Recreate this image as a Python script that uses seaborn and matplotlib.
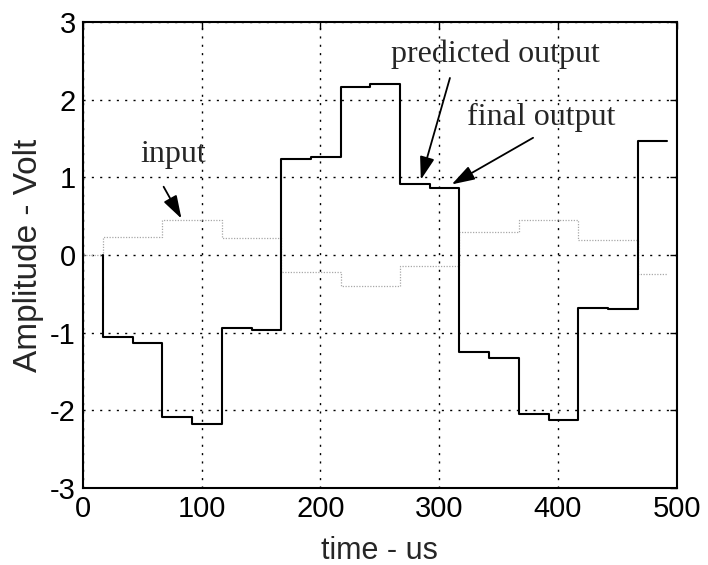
import matplotlib
matplotlib.use("Agg")
import matplotlib.pyplot as plt
import seaborn as sns
import pandas as pd

# step edges (us)
out_t = [17, 42, 67, 92, 117, 142, 167, 192, 217, 242, 267, 292, 317, 342,
         367, 392, 417, 442, 467, 492]
# output (final / predicted) levels, one per interval
out_v = [-1.06, -1.13, -2.09, -2.18, -0.94, -0.96, 1.24, 1.26, 2.17, 2.20,
         0.91, 0.87, -1.25, -1.32, -2.04, -2.12, -0.68, -0.70, 1.47]

in_t = [0, 17, 67, 117, 167, 217, 267, 317, 367, 417, 467, 492]
in_v = [0.0, 0.23, 0.45, 0.22, -0.22, -0.40, -0.14, 0.30, 0.45, 0.19, -0.24]

xticks = [0, 100, 200, 300, 400, 500]
yticks = [-3, -2, -1, 0, 1, 2, 3]

sns.set_theme(style="white")
plt.rcParams['font.family'] = ['Liberation Sans', 'DejaVu Sans']

fig = plt.figure(figsize=(7.08, 5.65), dpi=100)
ax = fig.add_axes([0.117, 0.136, 0.839, 0.825])

df_out = pd.DataFrame({"t": [out_t[0]] + out_t, "v": [0.0] + out_v + [out_v[-1]]})
df_in = pd.DataFrame({"t": in_t, "v": in_v + [in_v[-1]]})

sns.lineplot(data=df_in, x="t", y="v", ax=ax, sort=False, estimator=None,
             drawstyle="steps-post", color="#a8a8a8", linewidth=0.9,
             linestyle=(0, (1, 1.2)))
sns.lineplot(data=df_out, x="t", y="v", ax=ax, sort=False, estimator=None,
             drawstyle="steps-post", color="black", linewidth=1.5)

ax.set_xlim(0, 500)
ax.set_ylim(-3, 3)
ax.set_xticks(xticks)
ax.set_yticks(yticks)
ax.set_xticklabels([str(t) for t in xticks], fontsize=21)
ax.set_yticklabels([str(t) for t in yticks], fontsize=21)
ax.set_xlabel("time - us", fontsize=22, labelpad=9)
ax.set_ylabel("Amplitude - Volt", fontsize=24, labelpad=4)

ax.grid(True, color="black", linestyle=(0, (1.5, 4.5)), linewidth=1.0)
for s in ax.spines.values():
    s.set_color("black")
    s.set_linewidth(1.5)
ax.tick_params(direction="in", length=5, width=1, colors="black",
               top=True, right=True, pad=5)

serif = ['Liberation Serif', 'DejaVu Serif']
arrowprops = dict(arrowstyle="-|>,head_length=1.0,head_width=0.32",
                  mutation_scale=14, color="black", lw=1.3,
                  shrinkA=0, shrinkB=0)
ax.annotate("input", xy=(83, 0.47), xytext=(76, 1.29), fontsize=23,
            family=serif, ha="center", va="center")
ax.annotate("", xy=(83, 0.47), xytext=(68, 0.88), arrowprops=arrowprops)
ax.annotate("predicted output", xy=(284.5, 0.97), xytext=(347, 2.58),
            fontsize=23, family=serif, ha="center", va="center")
ax.annotate("", xy=(284.5, 0.97), xytext=(309, 2.28), arrowprops=arrowprops)
ax.annotate("final output", xy=(310.5, 0.91), xytext=(385.5, 1.77),
            fontsize=23, family=serif, ha="center", va="center")
ax.annotate("", xy=(310.5, 0.91), xytext=(379, 1.51), arrowprops=arrowprops)

fig.savefig("out.png", dpi=100)
